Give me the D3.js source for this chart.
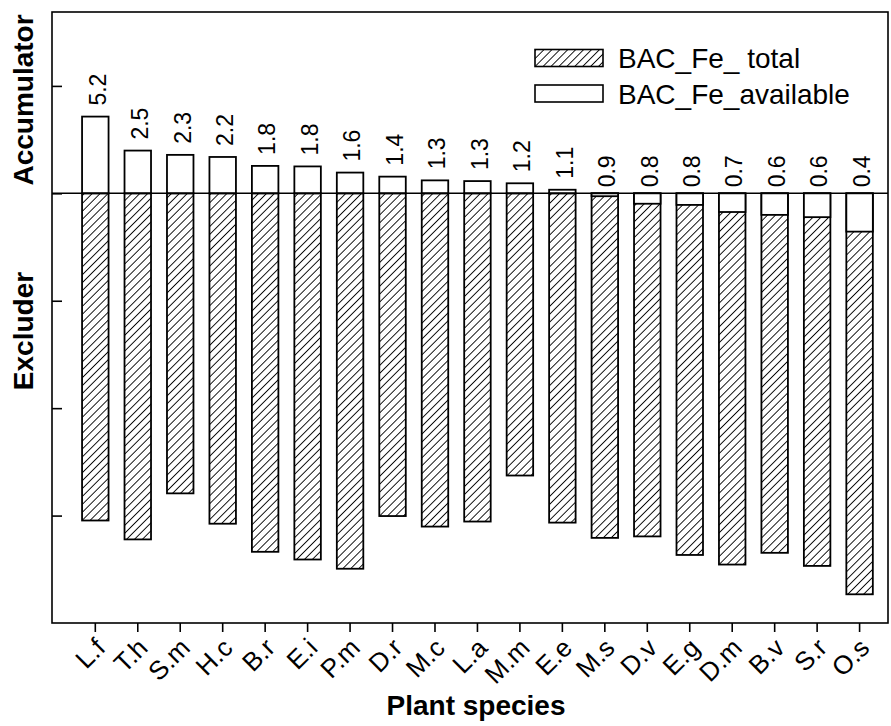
<!DOCTYPE html>
<html>
<head>
<meta charset="utf-8">
<script src="https://cdn.jsdelivr.net/npm/d3@7"></script>
<style>
  body { margin: 0; background: #fff; }
  text { font-family: "Liberation Sans", Arial, sans-serif; fill: #000; }
</style>
</head>
<body>
<script>
var width = 891,
    height = 726;

var species = ["L.f", "T.h", "S.m", "H.c", "B.r", "E.i", "P.m", "D.r", "M.c", "L.a",
               "M.m", "E.e", "M.s", "D.v", "E.g", "D.m", "B.v", "S.r", "O.s"];

// BAC_Fe_total
var total = [0.00090, 0.00060, 0.00161, 0.00084, 0.00046, 0.00039, 0.00032, 0.00099, 0.00079, 0.00088,
             0.00236, 0.00086, 0.00062, 0.00064, 0.00043, 0.00035, 0.00045, 0.00034, 0.000185];

// BAC_Fe_available
var available = [5.18, 2.50, 2.28, 2.18, 1.80, 1.78, 1.56, 1.43, 1.32, 1.30,
                 1.24, 1.08, 0.94, 0.80, 0.78, 0.67, 0.63, 0.60, 0.44];

var yTicks = [0.001, 0.01, 0.1, 1, 10];

var legendLabels = ["BAC_Fe_ total", "BAC_Fe_available"];

var plotLeft = 52, plotRight = 888, plotTop = 12, plotBottom = 623;

var svg = d3.select("body").append("svg")
    .attr("width", width)
    .attr("height", height);

// hatch pattern
svg.append("defs").append("pattern")
    .attr("id", "hatch")
    .attr("patternUnits", "userSpaceOnUse")
    .attr("width", 5.6)
    .attr("height", 5.6)
    .attr("patternTransform", "rotate(45)")
  .append("line")
    .attr("x1", 0).attr("y1", 0)
    .attr("x2", 0).attr("y2", 5.6)
    .attr("stroke", "#000")
    .attr("stroke-width", 1.8);

var step = 42.46;
var x = d3.scaleBand()
    .domain(species)
    .range([plotLeft, plotLeft + step * (19 - 0.376 + 2 * 0.708)])
    .paddingInner(0.376)
    .paddingOuter(0.708);

var y = d3.scaleLog()
    .domain([0.0001, Math.pow(10, 1.688)])
    .range([plotBottom, plotTop]);

var data = species.map(function (s, i) {
    return { name: s, total: total[i], avail: available[i] };
});

// hatched bars (total), from 1 downwards
svg.selectAll(".bar-total")
    .data(data)
    .enter().append("rect")
    .attr("class", "bar-total")
    .attr("x", function (d) { return x(d.name); })
    .attr("width", x.bandwidth())
    .attr("y", y(1))
    .attr("height", function (d) { return y(d.total) - y(1); })
    .attr("fill", "url(#hatch)")
    .attr("stroke", "#000")
    .attr("stroke-width", 1.8);

// white bars (available), drawn on top
svg.selectAll(".bar-avail")
    .data(data)
    .enter().append("rect")
    .attr("class", "bar-avail")
    .attr("x", function (d) { return x(d.name); })
    .attr("width", x.bandwidth())
    .attr("y", function (d) { return Math.min(y(d.avail), y(1)); })
    .attr("height", function (d) { return Math.abs(y(d.avail) - y(1)); })
    .attr("fill", "#fff")
    .attr("stroke", "#000")
    .attr("stroke-width", 1.8);

// baseline at 1
svg.append("line")
    .attr("x1", plotLeft).attr("x2", plotRight)
    .attr("y1", y(1)).attr("y2", y(1))
    .attr("stroke", "#000")
    .attr("stroke-width", 1.6);

// value labels
var fmt = d3.format(".1f");
svg.selectAll(".val")
    .data(data)
    .enter().append("text")
    .attr("class", "val")
    .attr("transform", function (d) {
        var yy = d.avail > 1 ? y(d.avail) - 11 : y(1) - 6;
        return "translate(" + (x(d.name) + x.bandwidth() / 2 + 2) + "," + yy + ") rotate(-90)";
    })
    .attr("dy", "0.36em")
    .style("font-size", "23px")
    .text(function (d) { return fmt(d.avail); });

// plot box
svg.append("rect")
    .attr("x", plotLeft).attr("y", plotTop)
    .attr("width", plotRight - plotLeft).attr("height", plotBottom - plotTop)
    .attr("fill", "none")
    .attr("stroke", "#000")
    .attr("stroke-width", 1.6);

// y ticks (inward, unlabeled)
svg.append("g")
    .attr("transform", "translate(" + plotLeft + ",0)")
    .call(d3.axisRight(y).tickValues(yTicks).tickSize(10).tickFormat(""))
    .call(function (g) { g.select(".domain").remove(); })
    .selectAll("line").attr("stroke-width", 1.6);

// x axis ticks
var xAxis = svg.append("g")
    .attr("transform", "translate(0," + plotBottom + ")")
    .call(d3.axisBottom(x).tickSize(9).tickFormat(""));
xAxis.select(".domain").remove();
xAxis.selectAll("line").attr("stroke-width", 1.6);

svg.selectAll(".xlab")
    .data(species)
    .enter().append("text")
    .attr("class", "xlab")
    .attr("transform", function (d) {
        return "translate(" + (x(d) + x.bandwidth() / 2 + 5) + ",643) rotate(-45)";
    })
    .attr("text-anchor", "end")
    .attr("dy", "0.35em")
    .style("font-size", "26px")
    .text(function (d) { return d; });

// axis titles
svg.append("text")
    .attr("transform", "translate(33,100) rotate(-90)")
    .attr("text-anchor", "middle")
    .style("font-size", "28px")
    .style("font-weight", "bold")
    .text("Accumulator");

svg.append("text")
    .attr("transform", "translate(33,331) rotate(-90)")
    .attr("text-anchor", "middle")
    .style("font-size", "28px")
    .style("font-weight", "bold")
    .text("Excluder");

svg.append("text")
    .attr("x", 476)
    .attr("y", 715)
    .attr("text-anchor", "middle")
    .style("font-size", "28px")
    .style("font-weight", "bold")
    .text("Plant species");

// legend
var legend = svg.selectAll(".legend")
    .data(legendLabels)
    .enter().append("g")
    .attr("class", "legend")
    .attr("transform", function (d, i) { return "translate(535," + (58 + i * 35.5) + ")"; });

legend.append("rect")
    .attr("x", 0).attr("y", -8.5)
    .attr("width", 68).attr("height", 17)
    .attr("fill", function (d, i) { return i === 0 ? "url(#hatch)" : "#fff"; })
    .attr("stroke", "#000")
    .attr("stroke-width", 1.6);

legend.append("text")
    .attr("x", 83)
    .attr("dy", "0.36em")
    .style("font-size", "28px")
    .text(function (d) { return d; });
</script>
</body>
</html>
